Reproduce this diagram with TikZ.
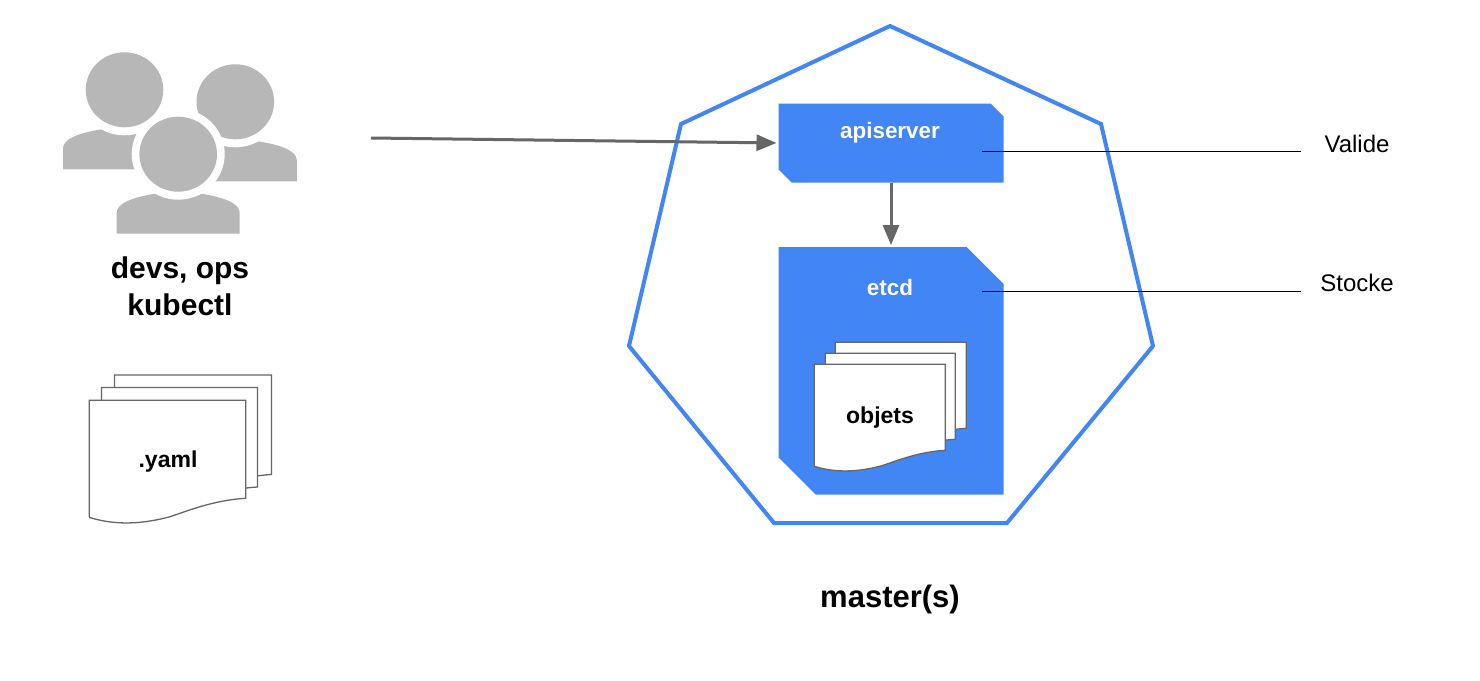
\documentclass[tikz,border=0pt]{standalone}
\usepackage{fontspec}
\setmainfont{Liberation Sans}
\usetikzlibrary{arrows.meta}
\definecolor{kblue}{HTML}{4285F4}
\definecolor{kgray}{HTML}{B7B7B7}
\definecolor{kdark}{HTML}{666666}
\tikzset{
  x=1pt,y=-1pt,
  blockfill/.style={fill=kblue,draw=none},
  blockbox/.style={draw=none,inner sep=0pt,outer sep=0pt},
  flow/.style={draw=kdark,line width=3pt,shorten >=2pt,-{Triangle[length=20pt,width=16pt]}},
  note/.style={draw=black,line width=1pt},
  sheetline/.style={draw=kdark,fill=white,line width=1.3pt},
  whitelabel/.style={text=white,font=\fontsize{22.4}{24}\selectfont\bfseries,inner sep=0pt},
  darklabel/.style={text=black,font=\fontsize{23}{25}\selectfont\bfseries,inner sep=0pt},
  biglabel/.style={text=black,font=\fontsize{30}{37}\selectfont\bfseries,inner sep=0pt,align=center},
  plainlabel/.style={text=black,font=\fontsize{24}{26}\selectfont,inner sep=0pt},
}
\newcommand{\persona}[2]{%
  \fill[kgray] (#1-61.5,#2+79.5) -- (#1-61.5,#2+58.5)
     .. controls (#1-61.5,#2+49) and (#1-45,#2+43) .. (#1-23,#2+39.5)
     -- (#1+23,#2+39.5)
     .. controls (#1+45,#2+43) and (#1+61.5,#2+49) .. (#1+61.5,#2+58.5)
     -- (#1+61.5,#2+79.5) -- cycle;
  \fill[white] (#1,#2) ellipse[x radius=46.5,y radius=45.5];
  \fill[kgray] (#1,#2) ellipse[x radius=38.8,y radius=37.5];
}
% left, top, right, y of the bottom right corner
\newcommand{\docsheet}[4]{%
  \pgfmathsetmacro{\sheetw}{#3-#1}
  \draw[sheetline] (#1,#4+.122*\sheetw) -- (#1,#2) -- (#3,#2) -- (#3,#4)
    .. controls (#3-.197*\sheetw,#4+.011*\sheetw) and (#3-.357*\sheetw,#4+.075*\sheetw) .. (#3-.485*\sheetw,#4+.118*\sheetw)
    .. controls (#3-.71*\sheetw,#4+.178*\sheetw) and (#3-.87*\sheetw,#4+.162*\sheetw) .. (#1,#4+.122*\sheetw);
}
% name, centre x, centre y, half width, half height, chamfer
\newcommand{\chamferblock}[6]{%
  \fill[blockfill] (#2-#4,#3-#5) -- (#2+#4-#6,#3-#5) -- (#2+#4,#3-#5+#6) -- (#2+#4,#3+#5)
     -- (#2-#4+#6,#3+#5) -- (#2-#4,#3+#5-#6) -- cycle;
  \node[blockbox,minimum width=2*#4 pt,minimum height=2*#5 pt] (#1) at (#2,#3) {};
}
\begin{document}
\begin{tikzpicture}
\useasboundingbox (0,0) rectangle (1480,680);
\fill[white] (0,0) rectangle (1480,680);
% users
\persona{124.5}{89.8}
\persona{235.3}{101.8}
\persona{178.2}{154.2}
\node[biglabel] (users) at (180,286) {devs, ops\\kubectl};
% yaml sheets
\docsheet{114.5}{375}{271.5}{474.5}
\docsheet{101.5}{387.5}{257.5}{487}
\docsheet{89.3}{400.3}{245.7}{498.3}
\node[darklabel] (yaml) at (168,462) {.yaml};
% master outline
\coordinate (h1) at (890,26);
\coordinate (h2) at (1101,124);
\coordinate (h3) at (1153,346);
\coordinate (h4) at (1007,523);
\coordinate (h5) at (774,523);
\coordinate (h6) at (629,346);
\coordinate (h7) at (681,124);
\draw[kblue,line width=4pt,line join=miter] (h1) -- (h2) -- (h3) -- (h4) -- (h5) -- (h6) -- (h7) -- cycle;
% blocks
\chamferblock{api}{891}{143}{112.5}{39.5}{13}
\chamferblock{etcd}{891}{370.75}{112.5}{123.75}{37}
\node[whitelabel] (apilabel) at (890,133) {apiserver};
\node[whitelabel] (etcdlabel) at (890,287) {etcd};
% object sheets
\docsheet{835.3}{342.3}{966.3}{428.3}
\docsheet{825.3}{353.3}{955.3}{439.3}
\docsheet{814.3}{364.3}{945.3}{450.3}
\node[darklabel] (objets) at (880,418) {objets};
% connectors
\coordinate (src) at (371,138);
\draw[flow] (src) -- (api.west);
\draw[flow] (api.south) -- (etcd.north);
\coordinate (a1) at (982,151);
\coordinate (a2) at (1301,151);
\coordinate (b1) at (982,291);
\coordinate (b2) at (1301,291);
\draw[note] (a1) -- (a2);
\draw[note] (b1) -- (b2);
\node[plainlabel] (valide) at (1357,144) {Valide};
\node[plainlabel] (stocke) at (1357,283) {Stocke};
\node[biglabel,font=\fontsize{31}{36}\selectfont\bfseries] (master) at (890,599.5) {master(s)};
\end{tikzpicture}
\end{document}
